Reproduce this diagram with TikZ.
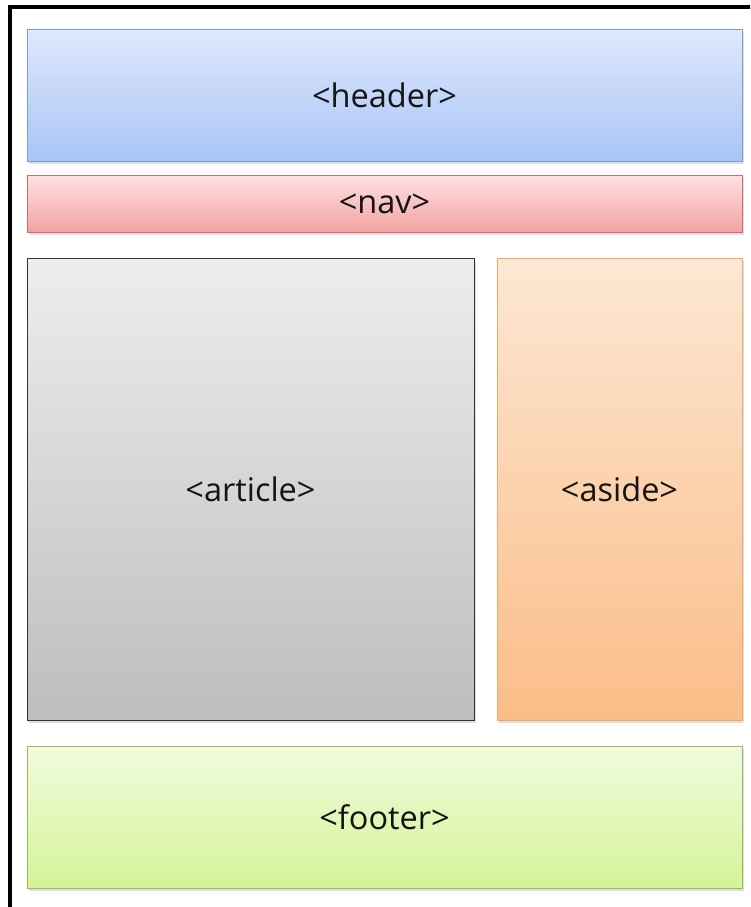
\documentclass[tikz,border=0pt]{standalone}
\usepackage{fontspec}
\setmainfont{Open Sans}
\usetikzlibrary{shadows}
\definecolor{hdtop}{HTML}{DEE8FD}\definecolor{hdbot}{HTML}{A9C5F5}\definecolor{hdline}{HTML}{7A9CD4}
\definecolor{nvtop}{HTML}{FDE2E2}\definecolor{nvbot}{HTML}{F4A2A2}\definecolor{nvline}{HTML}{D66B6B}
\definecolor{artop}{HTML}{EDEDED}\definecolor{arbot}{HTML}{BDBDBD}\definecolor{arline}{HTML}{333333}
\definecolor{astop}{HTML}{FDE7D4}\definecolor{asbot}{HTML}{FBBD88}\definecolor{asline}{HTML}{F0A866}
\definecolor{fttop}{HTML}{F1FBDD}\definecolor{ftbot}{HTML}{D4F497}\definecolor{ftline}{HTML}{9BBB59}
\definecolor{txt}{HTML}{141414}
\tikzset{
  box/.style={draw, line width=1pt, inner sep=0pt, text=txt,
    font=\fontsize{32.5}{38}\selectfont,
    drop shadow={opacity=0.25, shadow xshift=1.5pt, shadow yshift=-2.5pt}},
}
\begin{document}
\begin{tikzpicture}[x=1pt,y=-1pt]
\useasboundingbox (0,0) rectangle (750,907);
\fill[white] (0,0) rectangle (750,907);
\begin{scope}
\clip (0,0) rectangle (750,907);
\draw[line width=4pt, black] (10,7) rectangle (770,930);
\end{scope}
\node[box, draw=hdline, top color=hdtop, bottom color=hdbot, minimum width=715pt, minimum height=131pt] (header) at (384.5,95.5) {<header>};
\node[box, draw=nvline, top color=nvtop, bottom color=nvbot, minimum width=715pt, minimum height=57pt] (nav) at (384.5,203.5) {<nav>};
\node[box, draw=arline, top color=artop, bottom color=arbot, minimum width=447pt, minimum height=462pt] (article) at (250.5,489) {<article>};
\node[box, draw=asline, top color=astop, bottom color=asbot, minimum width=245pt, minimum height=462pt] (aside) at (619.5,489) {<aside>};
\node[box, draw=ftline, top color=fttop, bottom color=ftbot, minimum width=715pt, minimum height=142pt] (footer) at (384.5,817) {<footer>};
\end{tikzpicture}
\end{document}
